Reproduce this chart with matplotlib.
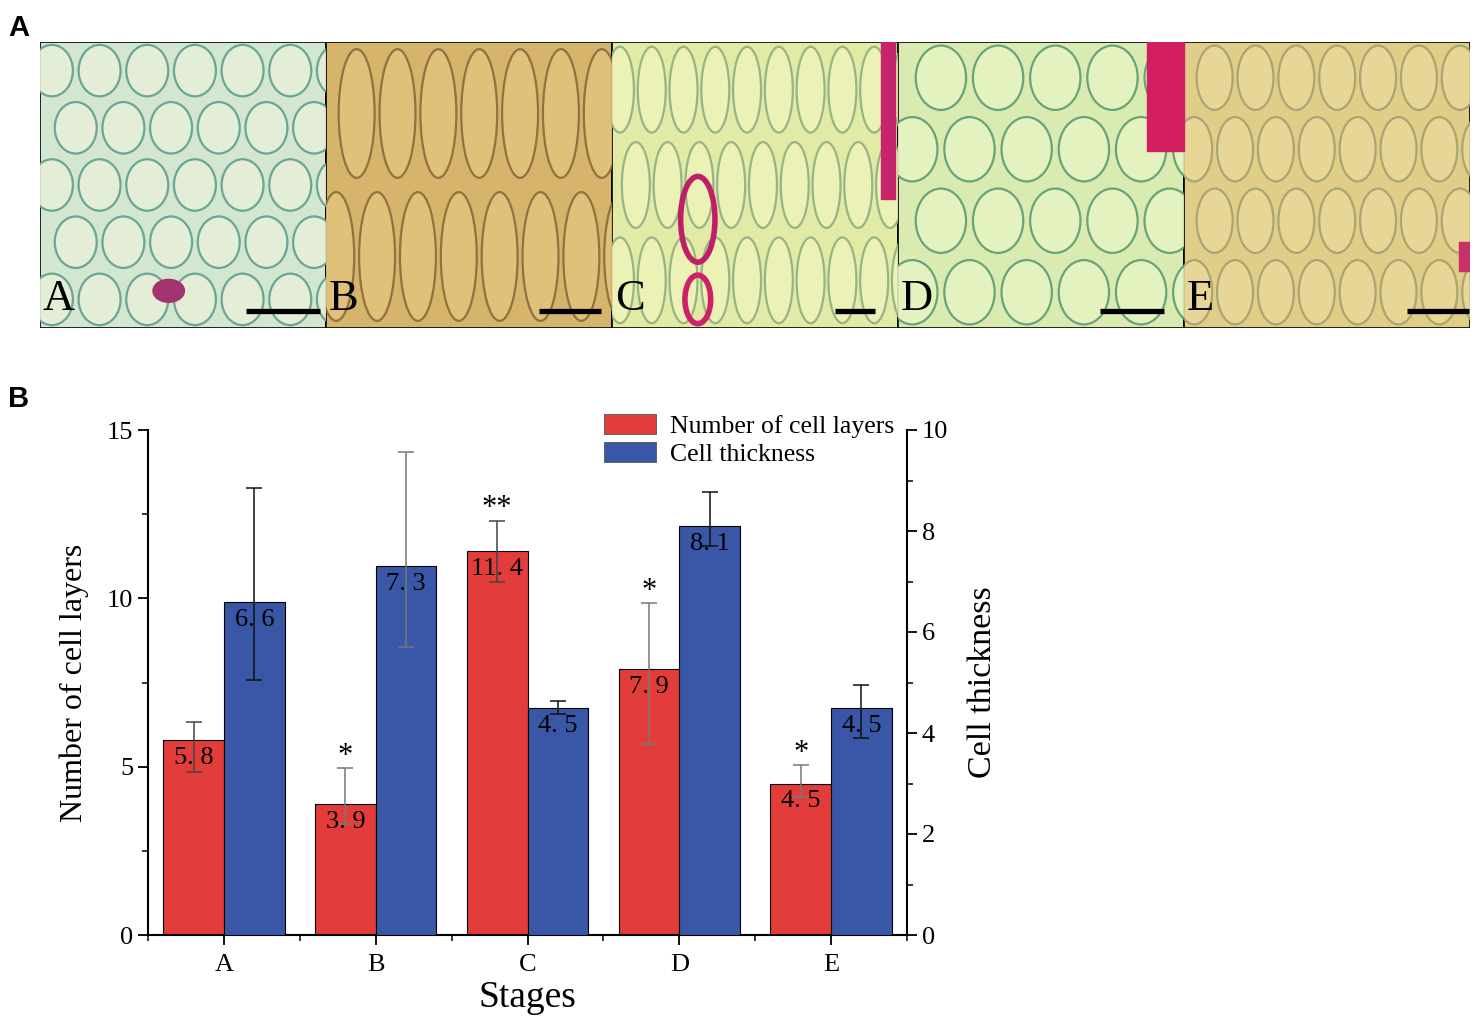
import numpy as np
import matplotlib
matplotlib.use("Agg")
from matplotlib import pyplot as plt
from matplotlib.patches import Rectangle, Ellipse, Patch
from matplotlib.ticker import MultipleLocator, FixedLocator

# ---- data ----
stages = ['A', 'B', 'C', 'D', 'E']
layers = [5.8, 3.9, 11.4, 7.9, 4.5]
layers_err_lo = [0.95, 0.6, 0.92, 2.23, 0.4]
layers_err_hi = [0.53, 1.05, 0.91, 1.95, 0.54]
layers_stars = ['', '*', '**', '*', '*']
thickness = [6.6, 7.3, 4.5, 8.1, 4.5]
thick_err_lo = [1.56, 1.6, 0.13, 0.39, 0.6]
thick_err_hi = [2.25, 2.26, 0.14, 0.68, 0.45]

red = '#e23d3b'
blue = '#3a56a6'
serif = ['Liberation Serif', 'DejaVu Serif']

fig = plt.figure(figsize=(14.79, 10.17), dpi=100)

# ---- panel A: micrograph strip (drawn as stylised cell sketches) ----
axA = fig.add_axes([40/1479, 1-328/1017, 1430/1479, 286/1017])
axA.set_xlim(0, 5)
axA.set_ylim(0, 1)
axA.axis('off')

panel_bg = ['#d3e6cf', '#d6b46c', '#e2eba6', '#d9ebb0', '#dfcd88']
panel_cell = ['#e6f0d8', '#e3c27c', '#eef3b8', '#e6f3c2', '#e8d898']
panel_edge = ['#5e9e90', '#8a6a3a', '#8fae82', '#5f9a72', '#a5a070']
panel_grid = [(5, 6), (2, 7), (3, 9), (4, 5), (4, 7)]
scale_bars = [(0.72, 0.98), (0.745, 0.96), (0.78, 0.92), (0.706, 0.93), (0.78, 0.995)]

for i, lab in enumerate(stages):
    frame = Rectangle((i, 0), 1, 1, facecolor=panel_bg[i], edgecolor='black', lw=1.2, zorder=1)
    axA.add_patch(frame)
    nrow, ncol = panel_grid[i]
    for r in range(nrow):
        shift = 0.5 / ncol if r % 2 else 0.0
        for c in range(ncol + 1):
            cx = i + (c + 0.25) / ncol + shift
            cy = (r + 0.5) / nrow
            e = Ellipse((cx, cy), 0.88 / ncol, 0.9 / nrow, facecolor=panel_cell[i],
                        edgecolor=panel_edge[i], lw=1.6, alpha=0.9, zorder=2)
            axA.add_patch(e)
            e.set_clip_path(frame)
    axA.text(i + 0.01, 0.03, lab, fontsize=32, family=serif, ha='left', va='bottom', zorder=5)
    x0, x1 = scale_bars[i]
    axA.plot([i + x0, i + x1], [0.06, 0.06], color='black', lw=3.8, solid_capstyle='butt', zorder=5)

# magenta stained features
axA.add_patch(Ellipse((0.45, 0.13), 0.11, 0.08, color='#a3336f', zorder=3))
axA.add_patch(Ellipse((2.3, 0.38), 0.12, 0.3, facecolor='none', edgecolor='#c01f68', lw=4, zorder=3))
axA.add_patch(Ellipse((2.3, 0.1), 0.09, 0.17, facecolor='none', edgecolor='#d0206a', lw=4, zorder=3))
axA.add_patch(Rectangle((2.94, 0.45), 0.05, 0.55, color='#c8246c', zorder=3))
axA.add_patch(Rectangle((3.87, 0.62), 0.13, 0.38, color='#d31f62', zorder=3))
axA.add_patch(Rectangle((4.96, 0.2), 0.04, 0.1, color='#c8306a', zorder=3))

fig.text(8/1479, 1-28/1017, 'A', fontsize=21, fontweight='bold', family='Liberation Sans', va='center')
fig.text(8/1479, 1-399/1017, 'B', fontsize=21, fontweight='bold', family='Liberation Sans', va='center')

# ---- panel B: grouped bars on twin axes ----
ax = fig.add_axes([148/1479, 1-935/1017, 759/1479, 505/1017])
ax2 = ax.twinx()
x = np.arange(len(stages))
w = 0.4

ax.bar(x - w/2, layers, w, color=red, edgecolor='black', lw=0.8, zorder=2)
ax2.bar(x + w/2, thickness, w, color=blue, edgecolor='black', lw=0.8, zorder=2)

layer_ecol = ['#444444', '#777777', '#444444', '#777777', '#777777']
thick_ecol = ['#111111', '#777777', '#111111', '#111111', '#111111']
for k in range(len(stages)):
    ax.errorbar(x[k] - w/2, layers[k], yerr=[[layers_err_lo[k]], [layers_err_hi[k]]],
                fmt='none', ecolor=layer_ecol[k], elinewidth=1.1, capsize=5.5, capthick=1.1, zorder=3)
    ax2.errorbar(x[k] + w/2, thickness[k], yerr=[[thick_err_lo[k]], [thick_err_hi[k]]],
                 fmt='none', ecolor=thick_ecol[k], elinewidth=1.1, capsize=5.5, capthick=1.1, zorder=3)
    ax.annotate(f'{layers[k]:.1f}'.replace('.', '. '), (x[k] - w/2, layers[k]), xytext=(0, -5),
                textcoords='offset points', ha='center', va='top', fontsize=19, family=serif, zorder=4)
    ax2.annotate(f'{thickness[k]:.1f}'.replace('.', '. '), (x[k] + w/2, thickness[k]), xytext=(0, -5),
                 textcoords='offset points', ha='center', va='top', fontsize=19, family=serif, zorder=4)
    if layers_stars[k]:
        ax.annotate(layers_stars[k], (x[k] - w/2, layers[k] + layers_err_hi[k]), xytext=(0, -2),
                    textcoords='offset points', ha='center', va='bottom', fontsize=22, family=serif)

ax.set_xlim(-0.5, 4.5)
ax.set_ylim(0, 15)
ax2.set_ylim(0, 10)
ax.set_xticks(x)
ax.set_xticklabels(stages, family=serif, fontsize=19)
ax.xaxis.set_minor_locator(FixedLocator(np.arange(-0.5, 5.0, 1.0)))
ax.yaxis.set_major_locator(MultipleLocator(5))
ax.yaxis.set_minor_locator(MultipleLocator(2.5))
ax2.yaxis.set_major_locator(MultipleLocator(2))
ax2.yaxis.set_minor_locator(MultipleLocator(1))

for a in (ax, ax2):
    a.spines['top'].set_visible(False)
    for s in a.spines.values():
        s.set_linewidth(1.5)
    a.tick_params(which='major', direction='out', length=7, width=1.3, labelsize=19)
    a.tick_params(which='minor', direction='out', length=4, width=1.1)
    for t in a.get_yticklabels():
        t.set_family(serif)
ax.tick_params(axis='x', which='major', pad=7)
ax.spines['right'].set_visible(False)
ax2.spines['left'].set_visible(False)
ax2.spines['bottom'].set_visible(False)

ax.set_ylabel('Number of cell layers', family=serif, fontsize=23, labelpad=13)
ax2.set_ylabel('Cell thickness', family=serif, fontsize=24.5, labelpad=14)
ax.set_xlabel('Stages', family=serif, fontsize=27, labelpad=3)

handles = [Patch(facecolor=red, edgecolor='#555555', lw=0.6, label='Number of cell layers'),
           Patch(facecolor=blue, edgecolor='#555555', lw=0.6, label='Cell thickness')]
fig.legend(handles=handles, loc='upper left', bbox_to_anchor=(594/1479, 1-404/1017),
           frameon=False, prop={'family': serif, 'size': 18.5}, handlelength=2.0,
           handleheight=0.8, handletextpad=0.55, labelspacing=0.15, borderaxespad=0)

fig.savefig('out.png', dpi=100)
